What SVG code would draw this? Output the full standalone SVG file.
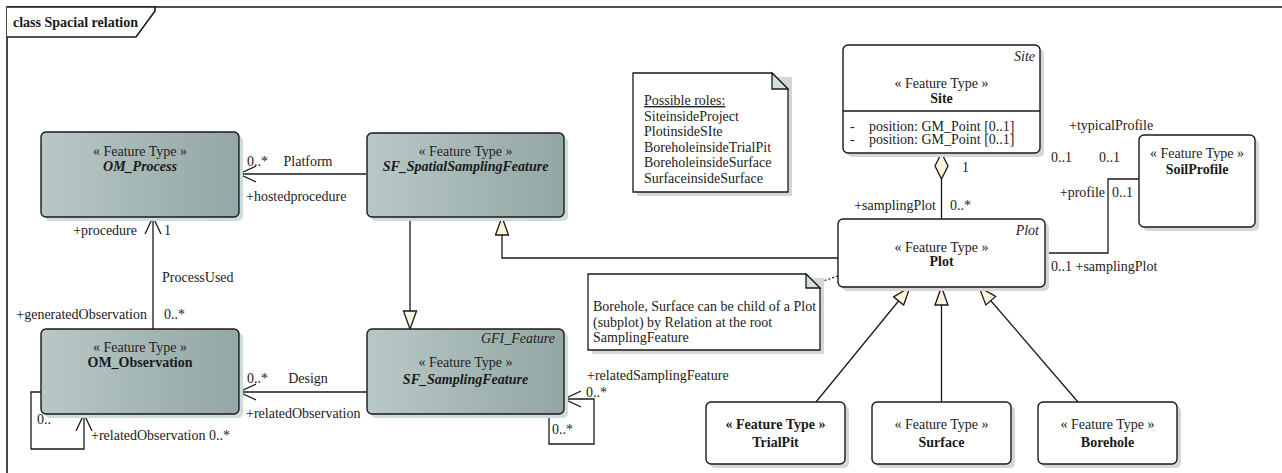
<svg xmlns="http://www.w3.org/2000/svg" width="1282" height="473" viewBox="0 0 1282 473">
<defs>
<style>
text{font-family:"Liberation Serif","Times New Roman",serif;font-size:14px;fill:#222222}
.c{text-anchor:middle}
.r{text-anchor:end}
.b{font-weight:bold;fill:#1a1a1a}
.i{font-style:italic}
.box{stroke:#1a1a1a;stroke-width:1.4}
.gbox{fill:url(#g)}
.wbox{fill:#ffffff}
.gsh{fill:#cfdcdb}
.wsh{fill:#d6d6d6}
.ln{fill:none;stroke:#1a1a1a;stroke-width:1.3}
.note{fill:#ffffff;stroke:#1a1a1a;stroke-width:1.3}
.fold{fill:#d3e0de;stroke:#1a1a1a;stroke-width:1.3}
</style>
<linearGradient id="g" x1="0" y1="0" x2="1" y2="0">
<stop offset="0" stop-color="#b8c8c6"/>
<stop offset="1" stop-color="#93a7a5"/>
</linearGradient>
<marker id="open" markerUnits="userSpaceOnUse" markerWidth="20" markerHeight="20" refX="17" refY="9" orient="auto">
<path d="M0,1 L17,9 L0,17" fill="none" stroke="#1a1a1a" stroke-width="1.3"/>
</marker>
<marker id="tri" markerUnits="userSpaceOnUse" markerWidth="21" markerHeight="16" refX="19" refY="7.5" orient="auto">
<path d="M1,1 L19,7.5 L1,14 Z" fill="#fdf4de" stroke="#1a1a1a" stroke-width="1.3"/>
</marker>
</defs>
<rect width="1282" height="473" fill="#ffffff"/>

<g id="frame">
<path d="M7,473 L7,7 L1282,7" fill="none" stroke="#1a1a1a" stroke-width="1.6"/>
<path d="M7,7 L155,7 L155,11 L136,37 L7,37" fill="#ffffff" stroke="#1a1a1a" stroke-width="1.6"/>
<text x="13" y="27" class="b">class Spacial relation</text>
</g>

<g id="connectors">
<path class="ln" d="M366,174 L239,174" marker-end="url(#open)"/>
<path class="ln" d="M153,329 L153,217" marker-end="url(#open)"/>
<path class="ln" d="M367,392 L239,392" marker-end="url(#open)"/>
<path class="ln" d="M41,392 L31,392 L31,449 L84,449 L84,414" marker-end="url(#open)"/>
<path class="ln" d="M549,414 L549,444 L594,444 L594,399 L564,399" marker-end="url(#open)"/>
<path class="ln" d="M410,217 L410,329" marker-end="url(#tri)"/>
<path class="ln" d="M838,258 L502,258 L502,217" marker-end="url(#tri)"/>
<path class="ln" d="M941.5,179 L941.5,219"/>
<polygon points="941.5,153 948,166 941.5,179 935,166" fill="#fdf4de" stroke="#1a1a1a" stroke-width="1.3"/>
<path class="ln" d="M1045,253 L1108,253 L1108,179 L1139,179"/>
<path class="ln" d="M816,402 L910,287" marker-end="url(#tri)"/>
<path class="ln" d="M941.5,402 L941.5,287" marker-end="url(#tri)"/>
<path class="ln" d="M1078,402 L979,287" marker-end="url(#tri)"/>
<path d="M817,283 L838,276" fill="none" stroke="#1a1a1a" stroke-width="1.2" stroke-dasharray="2,2"/>
<text x="247" y="166">0..*</text>
<text x="308" y="166" class="c">Platform</text>
<text x="246" y="201">+hostedprocedure</text>
<text x="137" y="235" class="r">+procedure</text>
<text x="164" y="235">1</text>
<text x="162" y="282">ProcessUsed</text>
<text x="147" y="319" class="r">+generatedObservation</text>
<text x="164" y="319">0..*</text>
<text x="247" y="383">0..*</text>
<text x="308" y="383" class="c">Design</text>
<text x="246" y="418">+relatedObservation</text>
<text x="37" y="424">0..</text>
<text x="91" y="440">+relatedObservation 0..*</text>
<text x="587" y="380">+relatedSamplingFeature</text>
<text x="586" y="397">0..*</text>
<text x="552" y="434">0..*</text>
<text x="962" y="172">1</text>
<text x="936" y="210" class="r">+samplingPlot</text>
<text x="950" y="210">0..*</text>
<text x="1069" y="130">+typicalProfile</text>
<text x="1051" y="162">0..1</text>
<text x="1099" y="162">0..1</text>
<text x="1105" y="197" class="r">+profile</text>
<text x="1112" y="197">0..1</text>
<text x="1051" y="271">0..1 +samplingPlot</text>
</g>

<g id="OM_Process">
<rect x="45" y="136" width="198" height="85" rx="5" class="gsh"/>
<rect x="41" y="132" width="198" height="85" rx="5" class="box gbox"/>
<text x="140" y="155.5" class="c">« Feature Type »</text>
<text x="140" y="170.5" class="c b i">OM_Process</text>
</g>

<g id="SF_SpatialSamplingFeature">
<rect x="371" y="137" width="197" height="84" rx="5" class="gsh"/>
<rect x="367" y="133" width="197" height="84" rx="5" class="box gbox"/>
<text x="465.5" y="155.5" class="c">« Feature Type »</text>
<text x="465.5" y="170.5" class="c b i">SF_SpatialSamplingFeature</text>
</g>

<g id="OM_Observation">
<rect x="45" y="333" width="198" height="85" rx="5" class="gsh"/>
<rect x="41" y="329" width="198" height="85" rx="5" class="box gbox"/>
<text x="140" y="352" class="c">« Feature Type »</text>
<text x="140" y="367" class="c b">OM_Observation</text>
</g>

<g id="SF_SamplingFeature">
<rect x="371" y="333" width="197" height="85" rx="5" class="gsh"/>
<rect x="367" y="329" width="197" height="85" rx="5" class="box gbox"/>
<text x="555" y="343" class="r i">GFI_Feature</text>
<text x="465.5" y="367" class="c">« Feature Type »</text>
<text x="465.5" y="384" class="c b i">SF_SamplingFeature</text>
</g>

<g id="note_roles">
<path d="M637,77 L792,77 L792,196 L637,196 Z" fill="#d6d6d6"/>
<path class="note" d="M633,73 L772,73 L788,89 L788,192 L633,192 Z"/>
<path class="fold" d="M772,73 L772,89 L788,89 Z"/>
<text x="644" y="105" text-decoration="underline">Possible roles:</text>
<text x="644" y="120.6">SiteinsideProject</text>
<text x="644" y="136.2">PlotinsideSIte</text>
<text x="644" y="151.8">BoreholeinsideTrialPit</text>
<text x="644" y="167.4">BoreholeinsideSurface</text>
<text x="644" y="183">SurfaceinsideSurface</text>
</g>

<g id="Site">
<rect x="847" y="49" width="197" height="108" rx="5" class="wsh"/>
<rect x="843" y="45" width="197" height="108" rx="5" class="box wbox"/>
<line x1="843" y1="111" x2="1040" y2="111" stroke="#1a1a1a" stroke-width="1.4"/>
<text x="1035" y="61" class="r i">Site</text>
<text x="941.5" y="87.5" class="c">« Feature Type »</text>
<text x="941.5" y="103" class="c b">Site</text>
<text x="850" y="130.5">-</text>
<text x="869" y="130.5">position: GM_Point [0..1]</text>
<text x="850" y="143.5">-</text>
<text x="869" y="143.5">position: GM_Point [0..1]</text>
</g>

<g id="SoilProfile">
<rect x="1143" y="139" width="116" height="92" rx="5" class="wsh"/>
<rect x="1139" y="135" width="116" height="92" rx="5" class="box wbox"/>
<text x="1197" y="157.5" class="c">« Feature Type »</text>
<text x="1197" y="173.5" class="c b">SoilProfile</text>
</g>

<g id="Plot">
<rect x="842" y="223" width="207" height="68" rx="5" class="wsh"/>
<rect x="838" y="219" width="207" height="68" rx="5" class="box wbox"/>
<text x="1039" y="234.5" class="r i">Plot</text>
<text x="941.5" y="251.5" class="c">« Feature Type »</text>
<text x="941.5" y="265.5" class="c b">Plot</text>
</g>

<g id="note_plot">
<path d="M592,278 L824,278 L824,354 L592,354 Z" fill="#d6d6d6"/>
<path class="note" d="M588,274 L806,274 L820,288 L820,350 L588,350 Z"/>
<path class="fold" d="M806,274 L806,288 L820,288 Z"/>
<text x="593" y="310.5">Borehole, Surface can be child of a Plot</text>
<text x="593" y="326.5">(subplot) by Relation at the root</text>
<text x="593" y="342">SamplingFeature</text>
</g>

<g id="TrialPit">
<rect x="710" y="406" width="139" height="62" rx="5" class="wsh"/>
<rect x="706" y="402" width="139" height="62" rx="5" class="box wbox"/>
<text x="775.5" y="428.5" class="c b">« Feature Type »</text>
<text x="775.5" y="446.5" class="c b">TrialPit</text>
</g>

<g id="Surface">
<rect x="876" y="406" width="139" height="62" rx="5" class="wsh"/>
<rect x="872" y="402" width="139" height="62" rx="5" class="box wbox"/>
<text x="941.5" y="428.5" class="c">« Feature Type »</text>
<text x="941.5" y="446.5" class="c b">Surface</text>
</g>

<g id="Borehole">
<rect x="1042" y="406" width="139" height="62" rx="5" class="wsh"/>
<rect x="1038" y="402" width="139" height="62" rx="5" class="box wbox"/>
<text x="1107.5" y="428.5" class="c">« Feature Type »</text>
<text x="1107.5" y="446.5" class="c b">Borehole</text>
</g>
</svg>
